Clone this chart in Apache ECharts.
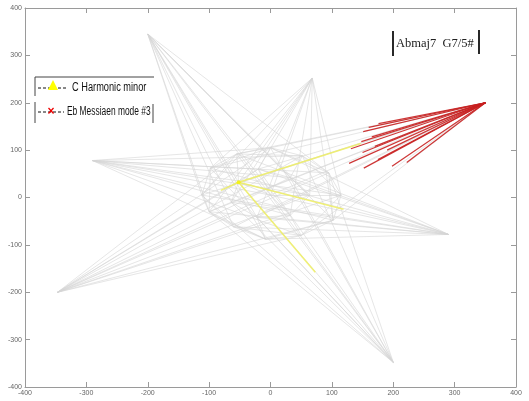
<!DOCTYPE html>
<html>
<head>
<meta charset="utf-8">
<script src="https://cdn.jsdelivr.net/npm/echarts@6/dist/echarts.min.js"></script>
<style>
  html, body { margin: 0; padding: 0; background: #fff; }
  #chart { width: 529px; height: 401px; }
</style>
</head>
<body>
<div id="chart"></div>
<script>
// Axis ticks
const tickValues = [-400, -300, -200, -100, 0, 100, 200, 300, 400];

// Outer star vertices of the network
const tips = [
  [-200, 345], [68, 252], [350, 200], [-290, 78],
  [290, -78], [-347, -200], [200, -348]
];

// Inner cluster nodes (ring, then interior)
const nodes = [
  [0, 105], [52, 88], [95, 52], [115, 5], [102, -48], [50, -80],
  [-8, -88], [-60, -62], [-100, -30], [-112, 5], [-98, 62], [-55, 92],
  [-52, 32], [-20, 60], [32, 42], [64, 5], [32, -38], [-22, -42],
  [-64, -10], [0, 5]
];

// Which inner nodes each star vertex is joined to
const tipLinks = [
  [9, 8, 18, 12, 7, 17, 6, 19, 16, 14, 15, 2, 4],
  [10, 12, 18, 8, 13, 19, 17, 16, 15, 3, 4, 9],
  [0, 11, 13, 12, 9, 18, 8, 7, 17, 5, 4, 19, 10],
  [0, 1, 14, 2, 15, 3, 19, 16, 4, 5, 13, 6],
  [10, 11, 12, 13, 9, 18, 8, 19, 17, 7, 6, 14, 0],
  [0, 1, 2, 3, 14, 15, 13, 19, 16, 4, 12, 11, 5],
  [11, 10, 9, 12, 13, 0, 18, 19, 8, 14, 1, 17, 2]
];

// Links between inner nodes
const innerLinks = [
  [0, 1], [1, 2], [2, 3], [3, 4], [4, 5], [5, 6], [6, 7], [7, 8], [8, 9], [9, 10], [10, 11], [11, 0],
  [0, 2], [1, 3], [2, 4], [3, 5], [4, 6], [5, 7], [6, 8], [7, 9], [8, 10], [9, 11], [10, 0], [11, 1],
  [12, 13], [13, 14], [14, 15], [15, 16], [16, 17], [17, 18], [18, 12],
  [12, 11], [13, 0], [14, 1], [15, 3], [16, 5], [17, 6], [18, 8], [19, 12], [19, 15], [19, 16], [19, 13]
];

// C Harmonic minor: highlighted node and its partial links
const yellowNode = [-52, 32];
const yellowEnds = [[147, 114], [119, -25], [73, -158], [-81, 15]];

// Eb Messiaen mode #3: highlighted vertex and its partial links
const redTip = [350, 200];
const redEnds = [
  [176, 156], [151, 139], [165, 128], [148, 118], [131, 103], [150, 95], [170, 108],
  [128, 72], [152, 62], [175, 80], [198, 66], [222, 74], [190, 100], [160, 148]
];

const grayData = [];
tipLinks.forEach((list, t) => {
  list.forEach(n => grayData.push({ coords: [tips[t], nodes[n]] }));
});
innerLinks.forEach(([a, b]) => grayData.push({ coords: [nodes[a], nodes[b]] }));

const yellowData = yellowEnds.map(p => ({ coords: [yellowNode, p] }));
const redData = redEnds.map(p => ({ coords: [redTip, p] }));

const chart = echarts.init(document.getElementById('chart'), null, { renderer: 'canvas' });

const labelStyle = { fontSize: 7, color: '#666', fontFamily: 'Liberation Sans, Arial, sans-serif' };
const axisBase = {
  type: 'value', min: -400, max: 400, interval: 100,
  axisLine: { show: true, onZero: false, lineStyle: { color: '#9a9a9a', width: 1 } },
  axisTick: { show: true, inside: true, length: 5, lineStyle: { color: '#9a9a9a' } },
  splitLine: { show: false }
};

const legendFont = '"Liberation Sans", Arial, sans-serif';

chart.setOption({
  animation: false,
  backgroundColor: '#ffffff',
  grid: { left: 25, right: 13, top: 8, bottom: 14 },
  xAxis: [
    Object.assign({}, axisBase, { position: 'bottom', axisLabel: Object.assign({ margin: 3 }, labelStyle) }),
    Object.assign({}, axisBase, { position: 'top', axisLabel: { show: false } })
  ],
  yAxis: [
    Object.assign({}, axisBase, { position: 'left', axisLabel: Object.assign({ margin: 3 }, labelStyle) }),
    Object.assign({}, axisBase, { position: 'right', axisLabel: { show: false } })
  ],
  series: [
    {
      type: 'lines', coordinateSystem: 'cartesian2d', silent: true,
      data: grayData,
      lineStyle: { color: '#d6d6d6', width: 1, opacity: 0.6 }
    },
    {
      type: 'lines', coordinateSystem: 'cartesian2d', silent: true,
      data: yellowData,
      lineStyle: { color: '#efef60', width: 1.6, opacity: 0.85 }
    },
    {
      type: 'lines', coordinateSystem: 'cartesian2d', silent: true,
      data: redData,
      lineStyle: { color: '#c82020', width: 1.2, opacity: 0.9 }
    },
    {
      type: 'scatter', silent: true,
      data: [yellowNode],
      symbol: 'circle', symbolSize: 4,
      itemStyle: { color: '#f4f400' }
    }
  ],
  graphic: [
    // legend frame
    { type: 'line', shape: { x1: 35, y1: 77, x2: 154, y2: 77 }, style: { stroke: '#444', lineWidth: 1 } },
    { type: 'line', shape: { x1: 35, y1: 77, x2: 35, y2: 96 }, style: { stroke: '#444', lineWidth: 1 } },
    { type: 'line', shape: { x1: 35, y1: 102, x2: 35, y2: 123 }, style: { stroke: '#444', lineWidth: 1 } },
    { type: 'line', shape: { x1: 153, y1: 104, x2: 153, y2: 123 }, style: { stroke: '#444', lineWidth: 1 } },
    // legend entry 1
    { type: 'line', shape: { x1: 38, y1: 88, x2: 68, y2: 88 }, style: { stroke: '#111', lineWidth: 1, lineDash: [3, 2] } },
    { type: 'polygon', shape: { points: [[53, 80], [48, 90], [58, 90]] }, style: { fill: '#ffff00' } },
    { type: 'text', x: 72, y: 88, scaleX: 0.77, style: { text: 'C Harmonic minor', font: '12px ' + legendFont, fill: '#111', verticalAlign: 'middle' } },
    // legend entry 2
    { type: 'line', shape: { x1: 38, y1: 112, x2: 64, y2: 112 }, style: { stroke: '#111', lineWidth: 1, lineDash: [3, 2] } },
    { type: 'text', x: 51, y: 112, style: { text: '×', font: 'bold 12px "Liberation Sans", Arial', fill: '#ee0000', align: 'center', verticalAlign: 'middle' } },
    { type: 'text', x: 67, y: 112, scaleX: 0.7, style: { text: 'Eb Messiaen mode #3', font: '12px ' + legendFont, fill: '#111', verticalAlign: 'middle' } },
    // chord annotation
    { type: 'line', shape: { x1: 393, y1: 31, x2: 393, y2: 56 }, style: { stroke: '#111', lineWidth: 1.8 } },
    { type: 'line', shape: { x1: 479, y1: 30, x2: 479, y2: 54 }, style: { stroke: '#111', lineWidth: 1.8 } },
    { type: 'text', x: 396, y: 44, style: { text: 'Abmaj7  G7/5#', font: '12.5px "Liberation Serif", "Times New Roman", serif', fill: '#222', verticalAlign: 'middle' } }
  ]
});
</script>
</body>
</html>
